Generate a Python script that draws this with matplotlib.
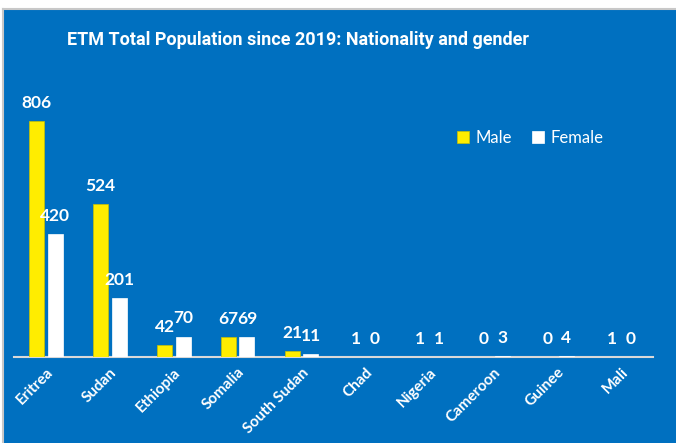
import matplotlib
matplotlib.use("Agg")
import matplotlib.pyplot as plt
from matplotlib.patches import Rectangle
from matplotlib.lines import Line2D
import numpy as np

categories = ["Eritrea", "Sudan", "Ethiopia", "Somalia", "South Sudan",
              "Chad", "Nigeria", "Cameroon", "Guinee", "Mali"]
male = [806, 524, 42, 67, 21, 1, 1, 0, 0, 1]
female = [420, 201, 70, 69, 11, 0, 1, 3, 4, 0]
title = "ETM Total Population since 2019: Nationality and gender"

BLUE = "#0070C0"
YELLOW = "#FFED00"
W, H = 676, 443

fig = plt.figure(figsize=(W / 100, H / 100), dpi=100)
fig.patch.set_facecolor("white")
# blue background panel
fig.patches.append(Rectangle((3.5 / W, 0), 1, 1 - 9 / H, transform=fig.transFigure,
                             facecolor=BLUE, edgecolor="none", zorder=-5))
fig.lines.append(Line2D([3 / W, 1], [1 - 8.5 / H, 1 - 8.5 / H], transform=fig.transFigure,
                        color="#C8C8C8", lw=1.5, zorder=-4))
fig.lines.append(Line2D([3 / W, 3 / W], [0, 1 - 8.5 / H], transform=fig.transFigure,
                        color="#C8C8C8", lw=1.5, zorder=-4))

bottom_px = 357
ymax = 1000
px_per_unit = 236 / 806
height_px = ymax * px_per_unit
left_px, right_px = 14, 653
ax = fig.add_axes([left_px / W, 1 - bottom_px / H, (right_px - left_px) / W, height_px / H])
ax.set_zorder(2)
ax.set_facecolor("none")
ax.set_xlim(-0.5, len(categories) - 0.5)
ax.set_ylim(0, ymax)

x = np.arange(len(categories))
bw = 0.235
off = 0.145
b1 = ax.bar(x - off, male, bw, color=YELLOW, edgecolor="#C9C200", linewidth=0.5, label="Male", zorder=3)
b2 = ax.bar(x + off, female, bw, color="white", edgecolor="white", linewidth=0.5, label="Female", zorder=3)

lblfont = dict(family=["Lato", "DejaVu Sans"], weight="bold", size=12.5, color="white")
for rects, vals in ((b1, male), (b2, female)):
    for r, v in zip(rects, vals):
        ax.annotate(str(v), (r.get_x() + r.get_width() / 2, v), xytext=(0, 9.4),
                    textcoords="offset points", ha="center", va="baseline",
                    annotation_clip=False, **lblfont)

for s in ("top", "right", "left"):
    ax.spines[s].set_visible(False)
ax.spines["bottom"].set_color("#D9D9D9")
ax.spines["bottom"].set_linewidth(1.5)
ax.set_yticks([])
ax.set_xticks(x)
ax.set_xticklabels(categories, rotation=45, ha="right", rotation_mode="anchor",
                   family=["Lato", "DejaVu Sans"], weight="bold", fontsize=11, color="white")
ax.tick_params(axis="x", length=0, pad=6)

fig.text(67 / W, 1 - 40 / H, title, ha="left", va="center", color="white",
         family=["Roboto", "DejaVu Sans"], weight="bold", fontsize=13)

leg = fig.legend(handles=[b1, b2], labels=["Male", "Female"], loc="center left",
                 bbox_to_anchor=(442 / W, 1 - 138 / H), ncol=2, frameon=False,
                 prop=dict(family=["Lato", "DejaVu Sans"], size=12),
                 handlelength=0.7, handleheight=0.7, handletextpad=0.4, columnspacing=1.2)
for t in leg.get_texts():
    t.set_color("white")

fig.savefig("out.png", dpi=100, facecolor=fig.get_facecolor())
